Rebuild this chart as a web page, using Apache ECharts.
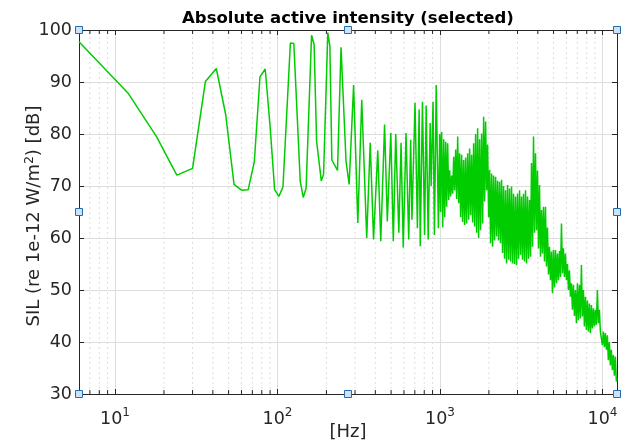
<!DOCTYPE html>
<html>
<head>
<meta charset="utf-8">
<script src="https://cdn.jsdelivr.net/npm/echarts@6/dist/echarts.min.js"></script>
<style>
html,body{margin:0;padding:0;background:#fff;}
#chart{width:629px;height:444px;}
</style>
</head>
<body>
<div id="chart"></div>
<script>
// ---- data ----
// low/mid frequency vertices (Hz)
const lfFreq = [6,12,18,24,30,36,42,48,54,60,66,72,78,84,90,96,102,108,120,126,138,144,150,162,168,174,186,192,204,210,216,234,246,264,276,294,312,330,354,372,390,414,432,456,474,498,516,534,558,576,594,618,642,660,672,702,726,744,756,780,804,822,846,870,882,906,924,948,978,996,1008,1014];
const lfSIL  = [97.75,87.9,79.5,72.1,73.4,90.1,92.6,83.7,70.3,69.2,69.3,74.7,91.0,92.5,81.5,69.3,68.0,69.8,97.5,97.4,70.9,67.8,69.6,99.0,97.2,78.6,71.0,72.2,99.5,96.9,75.0,73.0,96.7,74.8,70.3,89.4,62.9,86.6,60.0,78.3,59.7,76.8,59.4,81.8,63.2,80.2,59.4,80.0,61.0,78.3,58.2,80.2,59.7,78.9,63.5,86.0,61.9,84.7,58.4,86.2,60.6,85.5,59.7,82.1,70.0,86.2,60.6,89.4,61.9,80.0,65.0,78.3];
// dense high-frequency band: alternating upper / lower envelope samples (Hz)
const hfFreq = [1024,1039,1054,1069,1084,1099,1115,1131,1147,1163,1180,1197,1214,1231,1249,1267,1285,1303,1321,1340,1359,1378,1398,1418,1438,1458,1480,1501,1522,1544,1566,1588,1611,1634,1657,1681,1705,1729,1753,1778,1804,1830,1856,1882,1909,1936,1964,1992,2020,2049,2078,2108,2137,2167,2199,2230,2262,2294,2327,2360,2394,2428,2462,2497,2533,2569,2606,2643,2680,2718,2757,2796,2836,2876,2918,2959,3001,3044,3088,3132,3176,3221,3267,3313,3361,3409,3458,3507,3557,3608,3659,3711,3764,3817,3872,3927,3983,4040,4097,4155,4215,4275,4336,4398,4460,4523,4588,4653,4720,4787,4855,4924,4994,5065,5138,5211,5285,5360,5437,5514,5593,5672,5753,5835,5918,6002,6088,6174,6263,6352,6443,6534,6628,6722,6818,6915,7013,7113,7215,7317,7422,7527,7635,7743,7854,7966,8079,8194,8311,8429,8549,8670,8795,8920,9047,9175,9307,9439,9574,9710,9848,9988,10131,10275,10422,10570,10721,10873,11029,11186,11345,11506,11671,11837,12006,12176,12288];
const hfSIL  = [80.4,62,79,64,78.5,66,78.2,67.3,73,68,72,68.5,75.6,69.2,77,67.5,79.5,66.7,76.3,64,76,63.1,75,62.5,75.5,62.8,76.3,63.5,77.2,64.4,76,63,78.2,62.2,80,61,81.1,60,79,61.5,80.1,62.8,83.3,67,82.4,69.2,78,64,73.1,59,72.4,58.3,72,59.5,71.8,60.3,71,59.5,70.8,59,71.2,57.1,70,56,69.2,55.1,70.2,55.8,69.5,55.5,69.9,55.1,68.5,55,68,54.8,68.5,56,69.2,56.8,68,55.8,68.5,55.5,69.2,55.1,68,56,67.3,56.4,74.4,58.3,79.5,61,76.3,61.5,73,58,70.2,56.4,65.4,57,66,55.5,66,54.5,62,53,58.3,51.9,57.4,49.4,57.7,50.5,57.7,51.3,57,51.9,57.5,52.5,62.8,53.2,58,52.5,57,51.9,55,50,53.8,48.7,51.3,46.2,51,45,50,43.6,51.3,44.2,51,44.5,54.8,44.9,50,43,48.7,42.3,48,42,47.4,41.7,47.1,42.6,46.5,43,46.2,43.3,50,43.6,46.2,42,42.3,39.4,42,39,41.7,38.5,41.3,36.5,40,35.5,38.5,34.6,37.5,33.5,37.2,32.4,33];
// axis decorations
const minorTicks = [7,8,9,20,30,40,50,60,70,80,90,200,300,400,500,600,700,800,900,2000,3000,4000,5000,6000,7000,8000,9000];
const xMin = 6, xMax = 12288;
const yMin = 30, yMax = 100, yStep = 10;

const titleText = 'Absolute active intensity (selected)';
const xName = '[Hz]';
const yNameRich = '{a|SIL (re 1e-12 W/m}{s|2}{a|) [dB]}';

// ---- layout / style ----
const FONT = 'DejaVu Sans';
const TXT = '#262626';
const GRID = '#dedede';
const G = {left: 79, right: 12, top: 30, bottom: 50};
const W = 629, H = 444;

const points = lfFreq.map((f, i) => [f, lfSIL[i]]).concat(hfFreq.map((f, i) => [f, hfSIL[i]]));

const chart = echarts.init(document.getElementById('chart'), null, {renderer: 'canvas'});

const xr = W - G.right, yb = H - G.bottom;
const xm = (G.left + xr) / 2, ym = (G.top + yb) / 2;
const handlePos = [[G.left, G.top],[xm, G.top],[xr, G.top],[G.left, ym],[xr, ym],[G.left, yb],[xm, yb],[xr, yb]];

const axisCommon = {
  axisLine: {show: true, onZero: false, lineStyle: {color: TXT, width: 1}},
  axisTick: {show: true, inside: true, length: 5, lineStyle: {color: TXT, width: 1}}
};

chart.setOption({
  animation: false,
  backgroundColor: '#fff',
  grid: {left: G.left, right: G.right, top: G.top, bottom: G.bottom, containLabel: false, outerBoundsMode: 'none'},
  xAxis: [
    Object.assign({
      type: 'log', logBase: 10, min: xMin, max: xMax, position: 'bottom',
      splitLine: {show: true, lineStyle: {color: GRID, width: 1}},
      axisLabel: {
        margin: 13, showMinLabel: false, showMaxLabel: false,
        formatter: function (v) {
          const e = Math.log10(v);
          if (Math.abs(e - Math.round(e)) > 1e-6) return '';
          return '{b|10}{e|' + Math.round(e) + '}';
        },
        rich: {
          b: {fontFamily: FONT, fontSize: 17.5, color: TXT, lineHeight: 24},
          e: {fontFamily: FONT, fontSize: 12, color: TXT, lineHeight: 12, verticalAlign: 'top'}
        }
      },
      name: xName, nameLocation: 'middle', nameGap: 29, nameMoveOverlap: false,
      nameTextStyle: {fontFamily: FONT, fontSize: 18, color: TXT}
    }, axisCommon),
    Object.assign({
      type: 'log', logBase: 10, min: xMin, max: xMax, position: 'top',
      splitLine: {show: false}, axisLabel: {show: false}
    }, axisCommon)
  ],
  yAxis: [
    Object.assign({
      type: 'value', min: yMin, max: yMax, interval: yStep, position: 'left',
      splitLine: {show: true, lineStyle: {color: GRID, width: 1}},
      axisLabel: {margin: 7, fontFamily: FONT, fontSize: 17.5, color: TXT}
    }, axisCommon),
    Object.assign({
      type: 'value', min: yMin, max: yMax, interval: yStep, position: 'right',
      splitLine: {show: false}, axisLabel: {show: false}
    }, axisCommon)
  ],
  series: [
    {
      type: 'custom', xAxisIndex: 0, yAxisIndex: 0, silent: true, z: 1,
      data: minorTicks.map(v => [v]),
      renderItem: function (params, api) {
        const v = api.value(0);
        const b = api.coord([v, yMin]);
        const t = api.coord([v, yMax]);
        return {
          type: 'group',
          children: [
            {type: 'line', shape: {x1: b[0], y1: b[1], x2: t[0], y2: t[1]},
             style: {stroke: GRID, lineWidth: 1, lineDash: [2, 3]}},
            {type: 'line', shape: {x1: b[0], y1: b[1], x2: b[0], y2: b[1] - 4},
             style: {stroke: TXT, lineWidth: 1}},
            {type: 'line', shape: {x1: t[0], y1: t[1], x2: t[0], y2: t[1] + 4},
             style: {stroke: TXT, lineWidth: 1}}
          ]
        };
      }
    },
    {
      type: 'line', xAxisIndex: 0, yAxisIndex: 0, z: 3,
      data: points, showSymbol: false, symbol: 'none', clip: true,
      lineStyle: {color: '#00cc00', width: 1.5}
    }
  ],
  graphic: [
    {type: 'text', x: xm, y: 19, z: 10,
     style: {text: titleText, fontFamily: FONT, fontWeight: 'bold', fontSize: 16.5, fill: '#000',
             textAlign: 'center', textVerticalAlign: 'middle'}},
    {type: 'text', x: 34, y: 216, rotation: Math.PI / 2, z: 10,
     style: {text: yNameRich, align: 'center', verticalAlign: 'middle',
             rich: {
               a: {fontFamily: FONT, fontSize: 18, fill: TXT, lineHeight: 22},
               s: {fontFamily: FONT, fontSize: 12.5, fill: TXT, lineHeight: 12, verticalAlign: 'top'}
             }}}
  ].concat(handlePos.map(p => ({
    type: 'rect', z: 20,
    shape: {x: p[0] - 3.5, y: p[1] - 3.5, width: 7, height: 7},
    style: {fill: '#cfe1f3', stroke: '#1f6fb4', lineWidth: 1}
  })))
});
</script>
</body>
</html>
